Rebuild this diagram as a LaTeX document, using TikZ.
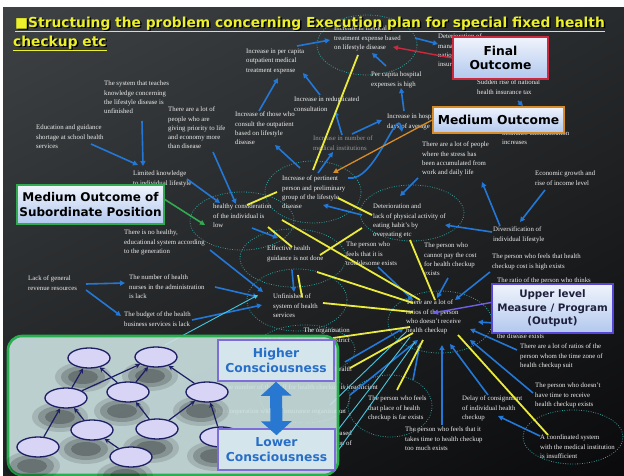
\documentclass[tikz,border=0pt]{standalone}
\usepackage{fontspec}
\setmainfont{Liberation Serif}
\newfontfamily\dvs{DejaVu Sans}
\usetikzlibrary{shapes.geometric,arrows.meta,calc,shadings}
\newcommand\smtxt{\fontsize{6.8}{9.2}\selectfont}
\definecolor{bluA}{RGB}{35,120,215}
\definecolor{yelA}{RGB}{235,235,60}
\definecolor{cynA}{RGB}{70,200,225}
\definecolor{dotA}{RGB}{45,165,160}
\definecolor{titY}{RGB}{236,240,40}
\definecolor{boxTop}{RGB}{240,244,252}
\definecolor{boxBot}{RGB}{178,200,238}
\definecolor{navyA}{RGB}{30,30,100}
\definecolor{lavA}{RGB}{215,212,245}
\definecolor{conBlue}{RGB}{40,110,200}
\definecolor{gFill}{RGB}{205,226,226}
\definecolor{cBox}{RGB}{212,230,236}
\definecolor{cBorder}{RGB}{125,110,215}
\definecolor{bgUL}{RGB}{62,66,68}
\definecolor{bgUR}{RGB}{40,43,45}
\definecolor{bgLL}{RGB}{30,32,34}
\definecolor{bgLR}{RGB}{10,10,12}
\tikzset{
  txt/.style={anchor=north west, inner sep=0pt, align=left, text={rgb,255:red,238;green,238;blue,238}, font=\smtxt},
  txtr/.style={anchor=north east, inner sep=0pt, align=right, text={rgb,255:red,238;green,238;blue,238}, font=\smtxt},
  dotell/.style={ellipse, draw=dotA, line width=0.8pt, dash pattern=on 0.8pt off 1.6pt, inner sep=0pt},
  blu/.style={draw=bluA, line width=1.6pt, -{Triangle[length=5pt,width=5pt]}},
  yel/.style={draw=yelA, line width=1.8pt},
  cyn/.style={draw=cynA, line width=0.9pt},
  obox/.style={rectangle, inner sep=0pt, top color=boxTop, bottom color=boxBot, line width=1.6pt, align=center, text=black, font=\dvs\bfseries\fontsize{12.3}{14}\selectfont},
  mini/.style={ellipse, draw=navyA, line width=1.3pt, fill=lavA, minimum width=42pt, minimum height=20pt, inner sep=0pt},
  minarr/.style={draw=navyA, line width=1.2pt, -{Stealth[length=5pt,width=5pt]}},
  cbox/.style={rectangle, inner sep=0pt, fill=cBox, draw=cBorder, line width=1.5pt, minimum width=116pt, minimum height=41pt},
  ctext/.style={align=center, text=conBlue, font=\dvs\bfseries\fontsize{12.3}{15.5}\selectfont, inner sep=0pt},
  titfont/.style={anchor=base west, inner sep=0pt, font=\dvs\bfseries\fontsize{13.8}{16}\selectfont}
}
\begin{document}
\begin{tikzpicture}[x=1pt,y=-1pt]
\useasboundingbox (0,0) rectangle (624,476);
\fill[white] (0,0) rectangle (624,476);
\shade[upper left=bgUL, upper right=bgUR, lower left=bgLL, lower right=bgLR] (3,8) rectangle (624,476);

% dotted ellipses
\node[dotell, minimum width=100pt, minimum height=60pt] (e_medexp) at (367,45) {};
\node[dotell, minimum width=96pt, minimum height=62pt] (e_pert) at (313,192) {};
\node[dotell, minimum width=104pt, minimum height=58pt] (e_healthy) at (242,221) {};
\node[dotell, minimum width=106pt, minimum height=58pt] (e_effect) at (293,258) {};
\node[dotell, minimum width=104pt, minimum height=56pt] (e_deter) at (412,213) {};
\node[dotell, minimum width=100pt, minimum height=62pt] (e_unfin) at (297,300) {};
\node[dotell, minimum width=100pt, minimum height=50pt] (e_org) at (305,350) {};
\node[dotell, minimum width=90pt, minimum height=50pt] (e_hid) at (305,398) {};
\node[dotell, minimum width=104pt, minimum height=62pt] (e_ratio) at (440,322) {};
\node[dotell, minimum width=84pt, minimum height=62pt] (e_place) at (390,406) {};
\node[dotell, minimum width=100pt, minimum height=54pt] (e_coord) at (573,437) {};

% texts
\node[txt] (t_teach) at (104,81) {The system that teaches\\knowledge concerning\\the lifestyle disease is\\unfinished};
\node[txt] (t_edu) at (36,125) {Education and guidance\\shortage at school health\\services};
\node[txt] (t_prio) at (168,107) {There are a lot of\\people who are\\giving priority to life\\and economy more\\than disease};
\node[txt] (t_limit) at (133,171) {Limited knowledge\\to individual lifestyle};
\node[txt] (t_percap) at (246,49) {Increase in per capita\\outpatient medical\\treatment expense};
\node[txt] (t_medexp) at (334,26) {Increase in medical\\treatment expense based\\on lifestyle disease};
\node[txt] (t_dete) at (438,34) {Deterioration of\\management of\\national health\\insurance};
\node[txt] (t_hosp) at (371,72) {Per capita hospital\\expenses is high};
\node[txt] (t_redup) at (294,97) {Increase in reduplicated\\consultation};
\node[txt] (t_consult) at (235,112) {Increase of those who\\consult the outpatient\\based on lifestyle\\disease};
\node[txt, text={rgb,255:red,150;green,150;blue,150}] (t_number) at (313,136) {Increase in number of\\medical institutions};
\node[txt] (t_days) at (387,114) {Increase in hospital\\days of average};
\node[txt] (t_sudden) at (477,80) {Sudden rise of national\\health insurance tax};
\node[txt] (t_admin) at (502,121) {Expenses of the health\\insurance administration\\increases};
\node[txt] (t_stress) at (422,142) {There are a lot of people\\where the stress has\\been accumulated from\\work and daily life};
\node[txt] (t_econ) at (535,171) {Economic growth and\\rise of income level};
\node[txt] (t_pert) at (282,176) {Increase of pertinent\\person and preliminary\\group of the lifestyle\\disease};
\node[txt] (t_healthy) at (213,204) {healthy consideration\\of the individual is\\low};
\node[txt] (t_deter) at (373,204) {Deterioration and\\lack of physical activity of\\eating habit's by\\overeating etc};
\node[txt] (t_divers) at (493,227) {Diversification of\\individual lifestyle};
\node[txt] (t_noedu) at (124,230) {There is no healthy,\\educational system according\\to the generation};
\node[txt] (t_effect) at (267,246) {Effective health\\guidance is not done};
\node[txt] (t_trouble) at (346,242) {The person who\\feels that it is\\troublesome exists};
\node[txt] (t_cannot) at (424,243) {The person who\\cannot pay the cost\\for health checkup\\exists};
\node[txt] (t_costhigh) at (492,254) {The person who feels that health\\checkup cost is high exists};
\node[txt] (t_lackrev) at (28,276) {Lack of general\\revenue resources};
\node[txt] (t_nurses) at (129,275) {The number of health\\nurses in the administration\\is lack};
\node[txt] (t_unfin) at (273,294) {Unfinished of\\system of health\\services};
\node[txt] (t_budget) at (124,312) {The budget of the health\\business services is lack};
\node[txt] (t_ratio) at (406,300) {There are a lot of\\ratios of the person\\who doesn't receive\\health checkup};
\node[txt] (t_disease) at (497,278) {The ratio of the person who thinks\\that the health checkup is\\not necessary since\\he goes to the hospital\\regularly\\for the treatment of\\the disease exists};
\node[txt] (t_timezone) at (520,344) {There are a lot of ratios of the\\person whom the time zone of\\health checkup suit};
\node[txt] (t_notime) at (535,383) {The person who doesn't\\have time to receive\\health checkup exists};
\node[txt] (t_place) at (368,396) {The person who feels\\that place of health\\checkup is far exists};
\node[txt] (t_delay) at (462,396) {Delay of consignment\\of individual health\\checkup};
\node[txt] (t_toolong) at (405,427) {The person who feels that it\\takes time to health checkup\\too much exists};
\node[txt] (t_coord) at (540,435) {A coordinated system\\with the medical institution\\is insufficient};
\node[txtr] (t_org) at (350,328) {The organization\\of health in charge in the district};
\node[txtr] (t_h1) at (352,367) {Lack of manpower of the public health};
\node[txtr] (t_h2) at (378,385) {The number of the staff for health checkup is insufficient};
\node[txtr] (t_h3) at (346,409) {The cooperation with the insurance organization};
\node[txtr] (t_h4) at (352,431) {The health checkup which is not based\\on the result of the checkup of};

\coordinate (cfree1) at (165,345);
\coordinate (cfree2) at (330,440);
\coordinate (cfree3) at (330,462);
\coordinate (cfree4) at (330,405);

% blue arrows
\draw[blu] ($(t_teach.north west)+(38,40)$) -- ($(t_limit.north west)+(10,-5)$);
\draw[blu] ($(t_edu.north west)+(55,19)$) -- ($(t_limit.north west)+(5,-6)$);
\draw[blu] ($(t_prio.north west)+(45,45)$) -- ($(e_healthy)+(-6,-17)$);
\draw[blu] ($(t_limit.north west)+(54,8)$) -- ($(e_healthy)+(-22,-18)$);
\draw[blu] ($(t_percap.north west)+(51,-3)$) -- ($(t_medexp.north west)+(-4,14)$);
\draw[blu] ($(t_consult.north west)+(24,-1)$) -- ($(t_percap.north west)+(32,29)$);
\draw[blu] ($(t_redup.north west)+(26,-2)$) -- ($(t_percap.north west)+(57,24)$);
\draw[blu] ($(t_hosp.north west)+(15,-6)$) -- ($(t_medexp.north west)+(38,27)$);
\draw[blu] ($(t_days.north west)+(17,-3)$) -- ($(t_hosp.north west)+(30,16)$);
\draw[blu] ($(t_number.north west)+(29,-1)$) -- ($(t_redup.north west)+(41,14)$);
\draw[blu] ($(t_number.north west)+(39,-2)$) -- ($(t_days.north west)+(-5,6)$);
\draw[blu] ($(e_pert)+(-13,-24)$) -- ($(t_consult.north west)+(40,33)$);
\draw[blu] ($(e_pert)+(5,-19)$) -- ($(t_number.north west)+(20,16)$);
\draw[blu] ($(e_pert)+(35,-14)$) to[out=-10,in=100] ($(t_days.north west)+(15,18)$);
\draw[blu] ($(t_medexp.north west)+(81,12)$) -- ($(t_dete.north west)+(0,10)$);
\draw[blu] ($(t_sudden.north west)+(41,21)$) -- ($(t_admin.north west)+(21,-15)$);
\draw[blu] ($(t_econ.north west)+(10,19)$) -- ($(t_divers.north west)+(27,-5)$);
\draw[blu] ($(t_divers.north west)+(7,-1)$) -- ($(t_stress.north west)+(60,40)$);
\draw[blu] ($(t_divers.north west)+(-1,5)$) -- ($(e_deter)+(33,12)$);
\draw[blu] ($(t_stress.north west)+(-4,36)$) -- ($(e_deter)+(-12,-17)$);
\draw[blu] ($(t_costhigh.north west)+(-2,18)$) -- ($(e_ratio)+(15,-22)$);
\draw[blu] ($(t_cannot.north west)+(24,35)$) -- ($(e_ratio)+(-3,-24)$);
\draw[blu] ($(t_timezone.north west)+(-3,6)$) -- ($(e_ratio)+(30,7)$);
\draw[blu] ($(t_notime.north west)+(-2,10)$) -- ($(e_ratio)+(30,18)$);
\draw[blu] ($(t_delay.north west)+(26,-1)$) -- ($(e_ratio)+(10,22)$);
\draw[blu] ($(t_toolong.north west)+(37,-2)$) -- ($(e_ratio)+(2,23)$);
\draw[blu] ($(e_place)+(23,-26)$) -- ($(e_ratio)+(-20,21)$);
\draw[blu] ($(t_coord.north west)+(0,1)$) -- ($(t_delay.north west)+(36,20)$);
\draw[blu] ($(t_nurses.north west)+(86,12)$) -- ($(e_unfin)+(-39,-3)$);
\draw[blu] ($(t_budget.north west)+(68,8)$) -- ($(e_unfin)+(-35,5)$);
\draw[blu] ($(t_noedu.north west)+(86,20)$) -- ($(e_unfin)+(-34,-8)$);
\draw[blu] ($(e_healthy)+(10,7)$) -- ($(e_effect)+(-15,-20)$);
\draw[blu] ($(e_effect)+(-1,12)$) -- ($(e_unfin)+(-3,-8)$);
\draw[blu] ($(e_deter)+(-50,2)$) -- ($(e_pert)+(10,13)$);
\draw[blu] ($(t_trouble.north west)+(32,25)$) -- ($(e_ratio)+(-27,-22)$);
\draw[blu] ($(t_h1.north east)+(-7,-5)$) -- ($(e_ratio)+(-36,6)$);
\draw[blu] ($(t_h2.north east)+(-28,10)$) -- ($(e_ratio)+(-22,18)$);
\draw[blu] ($(t_lackrev.north west)+(58,8)$) -- ($(t_nurses.north west)+(-4,8)$);
\draw[blu] ($(t_lackrev.north west)+(58,14)$) -- ($(t_budget.north west)+(-3,4)$);

% cyan lines
\draw[cyn, -{Triangle[length=4pt,width=4pt]}] (cfree1) -- ($(e_unfin)+(-39,-5)$);
\draw[cyn] (cfree2) -- ($(e_ratio)+(-30,15)$);
\draw[cyn] (cfree3) -- ($(e_ratio)+(-25,20)$);
\draw[cyn] (cfree4) -- ($(e_ratio)+(-34,10)$);

% yellow lines
\draw[yel] ($(e_pert)+(0,-22)$) -- ($(e_medexp)+(-9,10)$);
\draw[yel] ($(e_pert)+(25,6)$) -- ($(e_deter)+(-40,2)$);
\draw[yel] ($(e_healthy)+(5,-16)$) -- ($(e_pert)+(-36,0)$);
\draw[yel] ($(e_healthy)+(26,6)$) -- ($(e_effect)+(-1,-11)$);
\draw[yel] ($(e_healthy)+(40,-1)$) -- ($(e_ratio)+(-20,-22)$);
\draw[yel] ($(e_effect)+(27,-3)$) -- ($(e_deter)+(-50,15)$);
\draw[yel] ($(e_effect)+(24,14)$) -- ($(e_ratio)+(-27,-19)$);
\draw[yel] ($(e_effect)+(5,17)$) -- ($(e_unfin)+(5,-3)$);
\draw[yel] ($(e_unfin)+(26,3)$) -- ($(e_ratio)+(-27,-10)$);
\draw[yel] ($(e_org)+(28,-12)$) -- ($(e_ratio)+(-30,5)$);
\draw[yel] ($(e_deter)+(-2,27)$) -- ($(e_ratio)+(-5,-22)$);
\draw[yel] ($(e_org)+(45,18)$) -- ($(e_ratio)+(-27,11)$);
\draw[yel] ($(e_place)+(7,-16)$) -- ($(e_ratio)+(-17,18)$);
\draw[yel] ($(e_ratio)+(18,13)$) -- ($(e_coord)+(-25,-2)$);

% outcome boxes
\node[obox, draw={rgb,255:red,205;green,40;blue,60}, minimum width=95pt, minimum height=42pt] (f_box) at (500.5,58) {Final\\Outcome};
\node[obox, draw={rgb,255:red,215;green,140;blue,40}, minimum width=131pt, minimum height=26pt] (m_box) at (498.5,120) {Medium Outcome};
\node[obox, draw={rgb,255:red,50;green,170;blue,80}, minimum width=147pt, minimum height=39pt, font=\dvs\bfseries\fontsize{12}{15}\selectfont] (s_box) at (90.5,204.5) {Medium Outcome of\\Subordinate Position};
\node[obox, draw={rgb,255:red,85;green,70;blue,215}, minimum width=121pt, minimum height=49pt, text={rgb,255:red,30;green,32;blue,60}, font=\dvs\bfseries\fontsize{10.3}{13.5}\selectfont] (u_box) at (552.5,308.5) {Upper level\\Measure / Program\\(Output)};

\draw[draw={rgb,255:red,205;green,40;blue,60}, line width=1.4pt, -{Triangle[length=5pt,width=5pt]}] (f_box.west) -- ($(t_medexp.north west)+(59,21)$);
\draw[draw={rgb,255:red,215;green,140;blue,40}, line width=1.3pt, -{Triangle[length=5pt,width=5pt]}] (m_box.west) -- ($(e_pert)+(20,-19)$);
\draw[draw={rgb,255:red,50;green,170;blue,80}, line width=1.6pt, -{Triangle[length=5pt,width=5pt]}] ($(s_box.east)+(0,-5)$) -- ($(e_healthy)+(-37,4)$);
\draw[draw={rgb,255:red,110;green,95;blue,230}, line width=1.4pt, -{Triangle[length=5pt,width=5pt]}] ($(u_box.west)+(0,-6)$) -- ($(t_ratio.north west)+(27,13)$);
\draw[blu] ($(u_box.south west)+(0,-11)$) -- ($(e_ratio)+(38,0)$);

% green box
\node[rectangle, rounded corners=14pt, draw={rgb,255:red,40;green,175;blue,80}, line width=2.6pt, fill=gFill, fill opacity=0.9, minimum width=330pt, minimum height=139pt, inner sep=0pt] (gbox) at (173,405.5) {};
\foreach \px/\py in {89/358,156/357,66/398,128/392,207/392,92/430,157/429,38/447,131/457,221/437}{
  \fill[black, opacity=0.12] (\px-6,\py+19) ellipse (28pt and 15pt);
  \fill[black, opacity=0.18] (\px-6,\py+19) ellipse (22pt and 11pt);
  \fill[black, opacity=0.22] (\px-6,\py+19) ellipse (15pt and 7pt);
}
\node[mini] (m1) at (89,358) {};
\node[mini] (m2) at (156,357) {};
\node[mini] (m3) at (66,398) {};
\node[mini] (m4) at (128,392) {};
\node[mini] (m5) at (207,392) {};
\node[mini] (m6) at (92,430) {};
\node[mini] (m7) at (157,429) {};
\node[mini] (m8) at (38,447) {};
\node[mini] (m9) at (131,457) {};
\node[mini] (m10) at (221,437) {};
\draw[minarr] (m3) -- (m1);
\draw[minarr] (m3) -- (m2);
\draw[minarr] (m4) -- (m1);
\draw[minarr] (m4) -- (m2);
\draw[minarr] (m5) -- (m2);
\draw[minarr] (m8) -- (m3);
\draw[minarr] (m6) -- (m3);
\draw[minarr] (m7) -- (m4);
\draw[minarr] (m7) -- (m5);
\draw[minarr] (m10) -- (m5);
\draw[minarr] (m9) -- (m6);

\node[cbox] (hbox) at (276,360.5) {};
\node[ctext] (lbl_higher) at (hbox) {Higher\\Consciousness};
\node[cbox, minimum width=117pt] (lbox) at (276.5,449.5) {};
\draw[draw={rgb,255:red,40;green,120;blue,210}, line width=12pt, {Triangle[length=14pt,width=30pt]}-{Triangle[length=14pt,width=30pt]}] (hbox.south) -- ($(lbox.north)+(0,7)$);
\node[ctext] (lbl_lower) at (lbox) {Lower\\Consciousness};

% title
\node[titfont, text=black] (title1s) at (16.5,29) {■Structuing the problem concerning Execution plan for special fixed health};
\node[titfont, text=black] (title2s) at (14.5,48) {checkup etc};
\node[titfont, text=titY] (title1) at (15,27.5) {■Structuing the problem concerning Execution plan for special fixed health};
\node[titfont, text=titY] (title2) at (13,46.5) {checkup etc};
\draw[titY, line width=1.3pt] ($(title1.base west)+(0,3.8)$) -- ($(title1.base east)+(0,3.8)$);
\draw[titY, line width=1.3pt] ($(title2.base west)+(0,4)$) -- ($(title2.base east)+(0,4)$);
\end{tikzpicture}
\end{document}
